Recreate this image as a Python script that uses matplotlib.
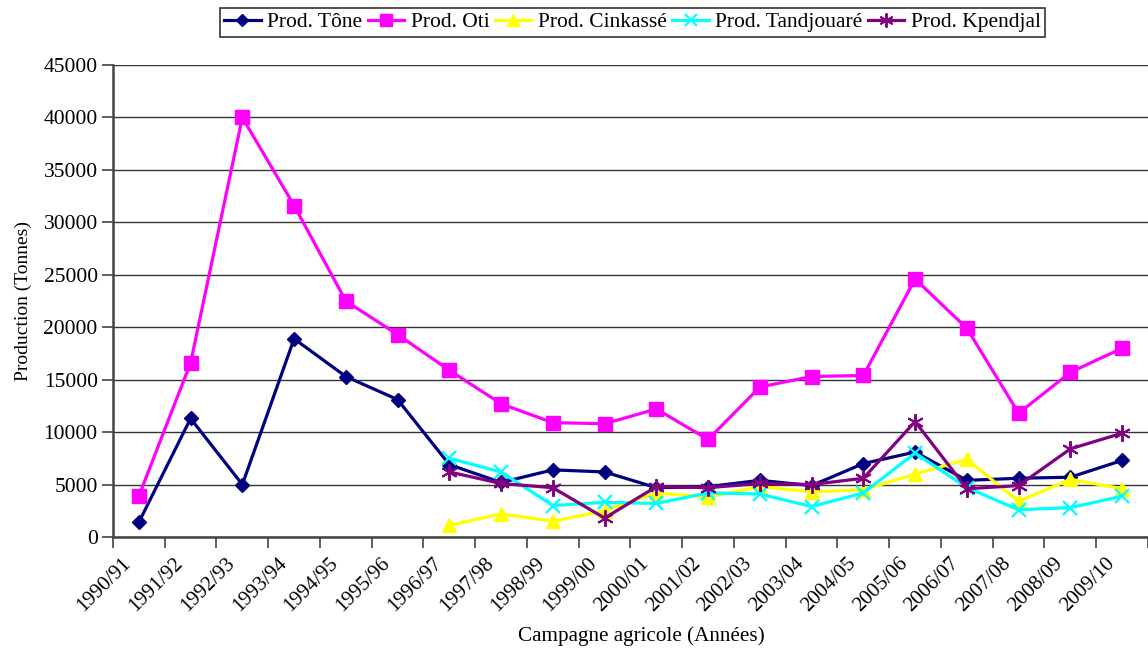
import numpy as np
import matplotlib.pyplot as plt
import matplotlib.transforms as mtransforms

plt.rcParams['font.family'] = ['Liberation Serif', 'DejaVu Serif']

campagnes = ["1990/91", "1991/92", "1992/93", "1993/94", "1994/95", "1995/96",
             "1996/97", "1997/98", "1998/99", "1999/00", "2000/01", "2001/02",
             "2002/03", "2003/04", "2004/05", "2005/06", "2006/07", "2007/08",
             "2008/09", "2009/10"]

tone = [1400, 11300, 5000, 18900, 15300, 13100, 6900, 5200, 6400, 6200,
        4700, 4800, 5400, 4900, 7000, 8100, 5400, 5600, 5700, 7300]
oti = [3900, 16600, 40000, 31600, 22500, 19300, 15900, 12700, 10900, 10800,
       12200, 9300, 14300, 15300, 15400, 24600, 19900, 11800, 15700, 18000]
nan = np.nan
cinkasse = [nan] * 6 + [1100, 2200, 1500, 2500, 4200, 3800, 4800, 4300,
                        4500, 6000, 7400, 3400, 5500, 4600]
tandjouare = [nan] * 6 + [7500, 6200, 3000, 3300, 3200, 4200, 4100, 2900,
                          4200, 8000, 4700, 2600, 2800, 3900]
kpendjal = [nan] * 6 + [6200, 5100, 4700, 1800, 4800, 4700, 5100, 5000,
                        5600, 11000, 4600, 4900, 8400, 9900]

fig = plt.figure(figsize=(11.48, 6.49), dpi=100)
ax = fig.add_axes([0.0984, 0.1726, 0.9016, 0.7272])

x = np.arange(len(campagnes))
lw = 2.3
ax.plot(x, tone, color='#000080', marker='D', ms=7.5, lw=lw, label='Prod. Tône')
ax.plot(x, oti, color='#FF00FF', marker='s', ms=9.5, lw=lw, label='Prod. Oti')
ax.plot(x, cinkasse, color='#FFFF00', marker='^', ms=10, lw=lw, label='Prod. Cinkassé')
ax.plot(x, tandjouare, color='#00FFFF', marker='x', ms=10, mew=1.6, lw=lw, label='Prod. Tandjouaré')
ax.plot(x, kpendjal, color='#800080', marker=(6, 2, 0), ms=12, mew=1.4, lw=lw, label='Prod. Kpendjal')

ax.set_xlim(-0.5, len(campagnes) - 0.5)
ax.set_ylim(0, 45000)
ax.set_yticks(np.arange(0, 45001, 5000))
ax.yaxis.grid(True, color='#333333', lw=1)
ax.set_axisbelow(True)

ax.set_xticks(x)
ax.set_xticks(np.arange(-0.5, len(campagnes)), minor=True)
ax.set_xticklabels(campagnes, rotation=45, ha='right', rotation_mode='anchor', fontsize=15)
ax.tick_params(axis='x', which='major', length=0, pad=12)
ax.tick_params(axis='x', which='minor', length=8, width=1.2, color='#444444')
ax.tick_params(axis='y', length=8, width=1.2, color='#444444', labelsize=15.5, pad=3)
off = mtransforms.ScaledTranslation(-17 / 100, 0, fig.dpi_scale_trans)
for lab in ax.get_xticklabels():
    lab.set_transform(lab.get_transform() + off)

for s in ['top', 'right']:
    ax.spines[s].set_visible(False)
for s in ['left', 'bottom']:
    ax.spines[s].set_color('#444444')
    ax.spines[s].set_linewidth(1.8)

ax.set_ylabel('Production (Tonnes)', fontsize=14, labelpad=8)
ax.set_xlabel('Campagne agricole (Années)', fontsize=15.2)
ax.xaxis.set_label_coords(0.51, -0.19)

leg = ax.legend(loc='upper center', bbox_to_anchor=(0.502, 1.121), ncol=5, fontsize=15.5,
                frameon=True, fancybox=False, edgecolor='black', handlelength=1.7,
                handletextpad=0.3, columnspacing=0.25, borderpad=0.2, borderaxespad=0,
                markerscale=0.85)
leg.get_frame().set_linewidth(1.2)

fig.savefig('out.png', dpi=100)
